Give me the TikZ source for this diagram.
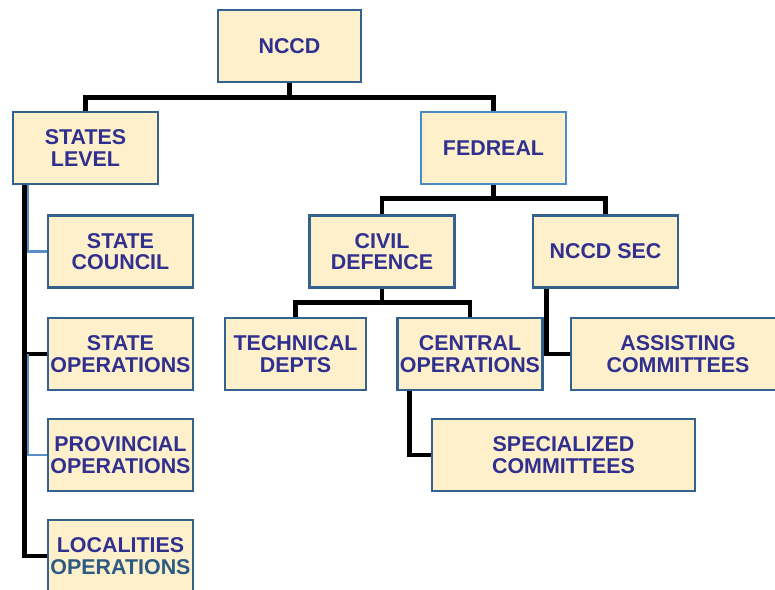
\documentclass[tikz,border=0pt]{standalone}
\usepackage{fontspec}
\setmainfont{Liberation Sans}
\usetikzlibrary{backgrounds}

\definecolor{boxfill}{HTML}{FFF0CC}
\definecolor{boxline}{HTML}{33628E}
\definecolor{fedline}{HTML}{4A8CCB}
\definecolor{txtblue}{HTML}{30308F}
\definecolor{opsteal}{HTML}{2C5A80}
\definecolor{linkblue}{HTML}{5A8EC6}

\tikzset{
  unit/.style={draw=boxline, line width=2.4pt, fill=boxfill,
    minimum width=145bp, minimum height=72bp, inner sep=0pt,
    align=center, text=txtblue,
    font=\fontsize{21.5}{21.5}\selectfont\bfseries},
  tree/.style={line width=5pt, black},
  bluelink/.style={line width=2.6pt, linkblue},
}

\begin{document}
\begin{tikzpicture}[x=1bp,y=-1bp]

	\useasboundingbox (0,0) rectangle (775,590);
	\clip (0,0) rectangle (775,590);

	%top of the chart
	\node[unit, minimum width=143bp] (nccd) at (289.5,46) {NCCD};
	\node[unit] (statelvl) at (85.5,148) {STATES\\LEVEL};
	\node[unit, draw=fedline] (fed) at (493.5,148) {FEDREAL};

	%federal branch
	\node[unit] (civil) at (382,251.5) {CIVIL\\DEFENCE};
	\node[unit] (sec) at (605.5,251.5) {NCCD SEC};
	\node[unit, minimum width=141bp] (tech) at (295.5,354) {TECHNICAL\\DEPTS};
	\node[unit] (central) at (470,354) {CENTRAL\\OPERATIONS};
	\node[unit, minimum width=214bp] (assist) at (678,354) {ASSISTING\\COMMITTEES};
	\node[unit, minimum width=263bp] (spec) at (563.5,455) {SPECIALIZED\\COMMITTEES};

	%states branch
	\node[unit] (council) at (120.5,251.5) {STATE\\COUNCIL};
	\node[unit] (stateops) at (120.5,354) {STATE\\OPERATIONS};
	\node[unit] (prov) at (120.5,455) {PROVINCIAL\\OPERATIONS};
	\node[unit] (local) at (120.5,556) {LOCALITIES\\\textcolor{opsteal}{OPERATIONS}};

	%connectors, behind the boxes
	\begin{scope}[on background layer]
	\draw[tree] (nccd.south) -- ++(0,14) coordinate (bus1) -| (statelvl.north);
	\draw[tree] (bus1) -| (fed.north);
	\draw[tree] (fed.south) -- ++(0,13) coordinate (bus2) -| (civil.north);
	\draw[tree] (bus2) -| (sec.north);
	\draw[tree] (civil.south) -- ++(0,14) coordinate (bus3) -| (tech.north);
	\draw[tree] (bus3) -| (central.north);
	\draw[tree] ([xshift=13bp]central.south west) |- (spec.west);
	\draw[tree] ([xshift=15bp]sec.south west) |- (assist.west);

	\draw[tree] ([xshift=12.5bp]statelvl.south west) |- (stateops.west);
	\draw[tree] ([xshift=12.5bp]statelvl.south west) |- (local.west);
	\coordinate (spine) at ([xshift=16bp]statelvl.south west);
	\draw[bluelink] (spine) |- (council.west);
	\draw[bluelink] (spine |- stateops.west) |- (prov.west);
	\end{scope}

\end{tikzpicture}
\end{document}
